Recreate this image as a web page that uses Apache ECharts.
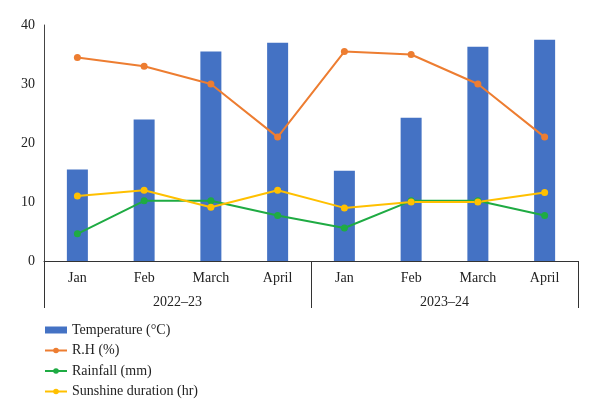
<!DOCTYPE html>
<html>
<head>
<meta charset="utf-8">
<script src="https://cdn.jsdelivr.net/npm/echarts@6/dist/echarts.min.js"></script>
<style>
  html, body { margin: 0; padding: 0; background: #fff; }
  #chart { width: 600px; height: 419px; }
</style>
</head>
<body>
<div id="chart"></div>
<script>
// months and seasons
var months = ['Jan', 'Feb', 'March', 'April', 'Jan', 'Feb', 'March', 'April'];
var seasons = ['2022–23', '2023–24'];
var yTicks = [0, 10, 20, 30, 40];

// series values
var temperature = [15.5, 24.0, 35.5, 37.0, 15.3, 24.3, 36.3, 37.5];
var humidity = [34.5, 33.0, 30.0, 21.0, 35.5, 35.0, 30.0, 21.0];
var rainfall = [4.6, 10.2, 10.2, 7.7, 5.6, 10.2, 10.2, 7.7];
var sunshine = [11.0, 12.0, 9.1, 12.0, 9.0, 10.0, 10.0, 11.6];

var font = 'Liberation Serif';
var textColor = '#222';

var chart = echarts.init(document.getElementById('chart'));

function lineSeries(name, data, color) {
  return {
    name: name,
    type: 'line',
    data: data,
    symbol: 'circle',
    symbolSize: 7,
    itemStyle: {color: color},
    lineStyle: {color: color, width: 2},
    z: 3
  };
}

var option = {
  animation: false,
  textStyle: {fontFamily: font, color: textColor},
  grid: {left: 44, right: 22, top: 25, bottom: 158, containLabel: false},
  legend: {
    orient: 'vertical',
    left: 44,
    top: 323,
    padding: 0,
    itemWidth: 22,
    itemHeight: 7,
    itemGap: 6.5,
    textStyle: {fontFamily: font, fontSize: 14, color: textColor},
    data: [
      {name: 'Temperature (°C)', icon: 'rect'},
      'R.H (%)',
      'Rainfall (mm)',
      'Sunshine duration (hr)'
    ]
  },
  xAxis: [
    {
      type: 'category',
      data: months,
      position: 'bottom',
      axisLine: {lineStyle: {color: '#333', width: 1}},
      axisTick: {show: false},
      axisLabel: {fontFamily: font, fontSize: 14, color: textColor, margin: 10, interval: 0}
    },
    {
      type: 'category',
      data: seasons,
      position: 'bottom',
      axisLine: {show: false},
      axisTick: {show: true, length: 47, lineStyle: {color: '#333', width: 1}},
      axisLabel: {fontFamily: font, fontSize: 14, color: textColor, margin: 34}
    }
  ],
  yAxis: {
    type: 'value',
    min: yTicks[0],
    max: yTicks[yTicks.length - 1],
    interval: 10,
    axisLine: {show: true, lineStyle: {color: '#444', width: 1}},
    axisTick: {show: false},
    splitLine: {show: false},
    axisLabel: {fontFamily: font, fontSize: 14, color: textColor, margin: 9}
  },
  series: [
    {
      name: 'Temperature (°C)',
      type: 'bar',
      data: temperature,
      barWidth: 21,
      itemStyle: {color: '#4472C4'},
      z: 2
    },
    lineSeries('R.H (%)', humidity, '#ED7D31'),
    lineSeries('Rainfall (mm)', rainfall, '#1FAB43'),
    lineSeries('Sunshine duration (hr)', sunshine, '#FFC000')
  ]
};

chart.setOption(option);
window.addEventListener('resize', function () { chart.resize(); });
</script>
</body>
</html>
